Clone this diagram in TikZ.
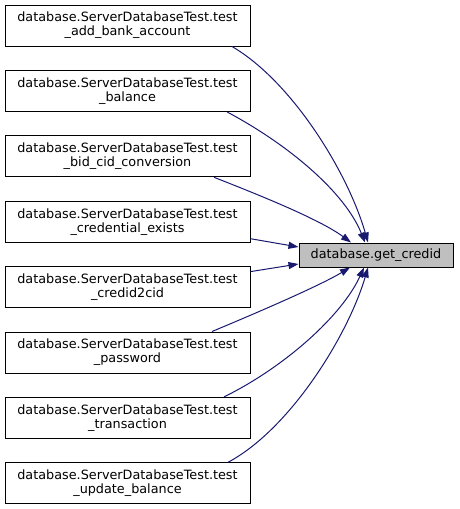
\documentclass[tikz,border=0pt]{standalone}
\usepackage{fontspec}
\setmainfont{DejaVu Sans}
\usepackage{xcolor}
\usepackage{tikz}
\usetikzlibrary{arrows.meta, positioning}

\definecolor{edgeblue}{RGB}{25,25,112}
\definecolor{hlgray}{RGB}{191,191,191}

\begin{document}
\begin{tikzpicture}[
  x=1pt, y=-1pt,
  test/.style={draw, line width=1pt, fill=white, minimum width=245pt, minimum height=41pt, inner sep=0pt, align=center, font=\fontsize{12.8}{14}\selectfont},
  fn/.style={test, fill=hlgray, minimum width=154pt, minimum height=24pt},
  call/.style={draw=edgeblue, line width=1pt, -{Triangle[length=10pt, width=7pt]}, fill=none},
  node distance=23.4pt,
]
\useasboundingbox (0,0) rectangle (459,509);
\node[test] (t1) at (127.5,25.5) {database.ServerDatabaseTest.test\\\_add\_bank\_account};
\node[test, below=of t1] (t2) {database.ServerDatabaseTest.test\\\_balance};
\node[test, below=of t2] (t3) {database.ServerDatabaseTest.test\\\_bid\_cid\_conversion};
\node[test, below=of t3] (t4) {database.ServerDatabaseTest.test\\\_credential\_exists};
\node[test, below=of t4] (t5) {database.ServerDatabaseTest.test\\\_credid2cid};
\node[test, below=of t5] (t6) {database.ServerDatabaseTest.test\\\_password};
\node[test, below=of t6] (t7) {database.ServerDatabaseTest.test\\\_transaction};
\node[test, below=of t7] (t8) {database.ServerDatabaseTest.test\\\_update\_balance};
\node[fn] (credid) at (376,255) {database.get\_credid};
\draw[call] ([xshift=104.5pt]t1.south) .. controls +(60,35) and +(-20,-70) .. ([xshift=-8pt]credid.north);
\draw[call] ([xshift=99.5pt]t2.south) .. controls +(62,33) and +(-20,-50) .. ([xshift=-11pt]credid.north);
\draw[call] ([xshift=86.5pt]t3.south) .. controls +(46,18) and +(-31,-23) .. ([xshift=-25pt]credid.north);
\draw[call] ([yshift=-17pt]t4.east) -- ([yshift=8pt]credid.west);
\draw[call] ([yshift=15.5pt]t5.east) -- ([yshift=-9pt]credid.west);
\draw[call] ([xshift=84.5pt]t6.north) .. controls +(48,-20) and +(-30,18) .. ([xshift=-26pt]credid.south);
\draw[call] ([xshift=96.5pt]t7.north) .. controls +(61,-30) and +(-22,48) .. ([xshift=-12pt]credid.south);
\draw[call] ([xshift=100.5pt]t8.north) .. controls +(62,-33) and +(-20,68) .. ([xshift=-8pt]credid.south);
\end{tikzpicture}
\end{document}
